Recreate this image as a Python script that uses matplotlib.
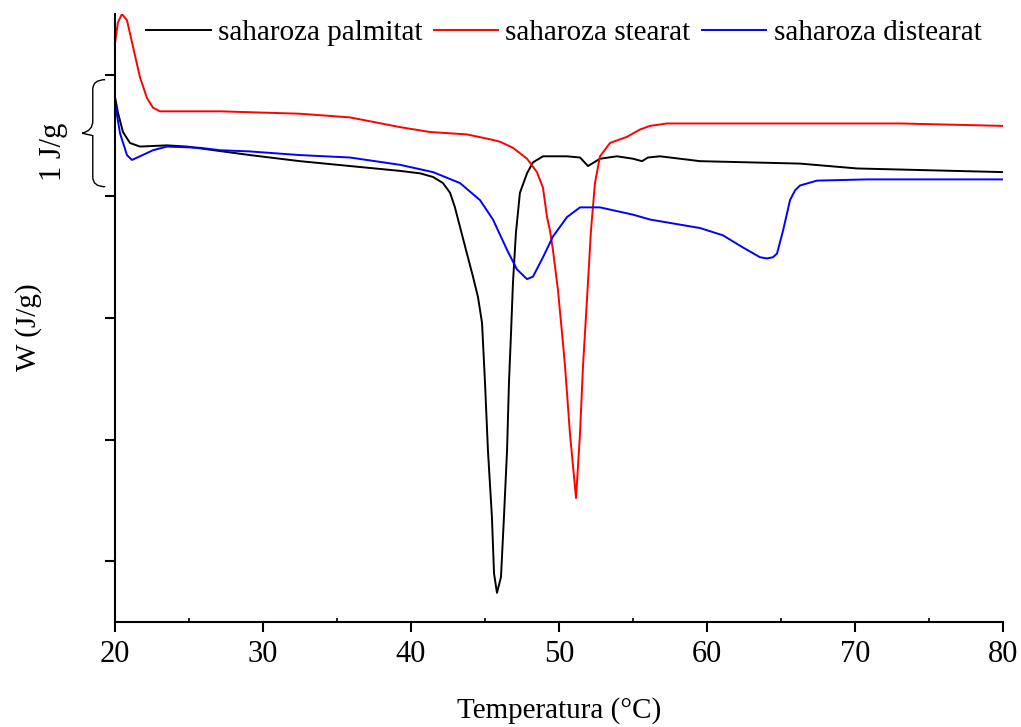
import matplotlib.pyplot as plt
import numpy as np
from matplotlib.transforms import blended_transform_factory
from matplotlib.path import Path
from matplotlib.patches import PathPatch

# saharoza palmitat
t_palm = [20.00, 20.20, 20.54, 21.01, 21.69, 23.51, 24.86, 29.12, 32.50, 35.88,
          39.26, 40.61, 41.49, 42.16, 42.64, 42.97, 43.31, 43.78, 44.19, 44.53,
          44.80, 45.00, 45.20, 45.47, 45.61, 45.81, 46.08, 46.28, 46.49, 46.62,
          46.76, 46.89, 47.09, 47.36, 47.84, 48.24, 48.92, 50.54, 51.42, 51.96,
          52.77, 53.92, 55.00, 55.61, 56.01, 56.82, 58.18, 59.53, 66.28, 70.14,
          80.00]
w_palm = [-0.18, -0.31, -0.47, -0.56, -0.59, -0.58, -0.59, -0.66, -0.71, -0.75,
          -0.79, -0.81, -0.84, -0.89, -0.97, -1.09, -1.25, -1.47, -1.66, -1.83,
          -2.04, -2.53, -3.09, -3.64, -4.10, -4.26, -4.13, -3.64, -3.09, -2.53,
          -2.12, -1.71, -1.30, -0.97, -0.81, -0.72, -0.67, -0.67, -0.68, -0.75,
          -0.69, -0.67, -0.69, -0.71, -0.68, -0.67, -0.69, -0.71, -0.73, -0.77,
          -0.80]

# saharoza stearat
t_stear = [20.00, 20.20, 20.47, 20.81, 21.22, 21.69, 22.16, 22.57, 23.04, 24.39,
           27.09, 32.50, 35.88, 39.26, 41.28, 43.78, 45.34, 46.01, 46.89, 47.84,
           48.51, 48.92, 49.19, 49.39, 49.59, 49.93, 50.27, 50.41, 50.74, 51.15,
           51.42, 51.62, 51.89, 52.16, 52.43, 52.77, 53.45, 54.59, 55.47, 56.15,
           57.30, 59.53, 66.28, 73.04, 80.00]
w_stear = [0.26, 0.43, 0.50, 0.45, 0.23, -0.02, -0.19, -0.27, -0.30, -0.30,
           -0.30, -0.32, -0.35, -0.43, -0.47, -0.49, -0.53, -0.55, -0.60, -0.69,
           -0.80, -0.93, -1.17, -1.28, -1.44, -1.77, -2.21, -2.40, -2.95, -3.48,
           -2.95, -2.40, -1.85, -1.28, -0.89, -0.67, -0.56, -0.51, -0.45, -0.42,
           -0.40, -0.40, -0.40, -0.40, -0.42]

# saharoza distearat
t_dist = [20.00, 20.34, 20.81, 21.15, 21.69, 22.57, 23.51, 25.74, 27.09, 29.12,
          32.50, 35.88, 39.26, 41.49, 43.31, 44.66, 45.54, 46.49, 47.16, 47.84,
          48.24, 48.92, 49.59, 50.54, 51.42, 52.09, 52.77, 55.00, 56.15, 59.53,
          61.08, 62.43, 63.58, 64.05, 64.46, 64.73, 65.14, 65.61, 65.95, 66.28,
          67.43, 70.81, 75.27, 80.00]
w_dist = [-0.23, -0.48, -0.66, -0.70, -0.67, -0.62, -0.59, -0.60, -0.62, -0.63,
          -0.66, -0.68, -0.74, -0.80, -0.89, -1.03, -1.19, -1.44, -1.60, -1.68,
          -1.66, -1.50, -1.33, -1.17, -1.09, -1.09, -1.09, -1.15, -1.19, -1.26,
          -1.32, -1.42, -1.50, -1.51, -1.50, -1.47, -1.28, -1.03, -0.95, -0.91,
          -0.87, -0.86, -0.86, -0.86]

labels = ['saharoza palmitat', 'saharoza stearat', 'saharoza distearat']
colors = ['black', 'red', 'blue']

plt.rcParams['font.family'] = ['Liberation Serif', 'DejaVu Serif']
plt.rcParams['font.size'] = 21

fig = plt.figure(figsize=(10.21, 7.27), dpi=100)
ax = fig.add_axes([0.1126, 0.1444, 0.8698, 0.8363])

for t, w, lab, c in zip([t_palm, t_stear, t_dist], [w_palm, w_stear, w_dist], labels, colors):
    ax.plot(t, w, color=c, lw=1.4, label=lab)

ax.set_xlim(20, 80)
ax.set_ylim(-4.5, 0.5)
ax.set_xticks(np.arange(20, 81, 10))
ax.set_xticks(np.arange(25, 80, 10), minor=True)
ax.set_yticks([0, -1, -2, -3, -4])
ax.set_yticklabels([])
ax.tick_params(axis='both', which='major', direction='out', length=7, width=1.5,
               labelsize=22, pad=6)
ax.tick_params(axis='x', which='minor', direction='in', length=3, width=1.2)
for s in ['top', 'right']:
    ax.spines[s].set_visible(False)
for s in ['left', 'bottom']:
    ax.spines[s].set_linewidth(1.5)

ax.set_xlabel('Temperatura (°C)', fontsize=21, va='top')
ax.xaxis.set_label_coords(0.5, -0.123)
ax.set_ylabel('W (J/g)', fontsize=21)
ax.yaxis.set_label_coords(-0.082, 0.485)

ax.legend(loc='center', bbox_to_anchor=(0.5055, 0.969), ncol=3, frameon=False,
          handlelength=2.2, handletextpad=0.25, columnspacing=0.4, fontsize=21,
          borderaxespad=0, borderpad=0)

# brace for scale 1 J/g
tr = blended_transform_factory(ax.transAxes, ax.transData)
xr, xm, xl = -0.011, -0.025, -0.037
verts = [(xr, -0.04), (xm, -0.04), (xm, -0.12), (xm, -0.12),
         (xm, -0.38), (xm, -0.38), (xm, -0.46), (xl, -0.48),
         (xm, -0.50), (xm, -0.50), (xm, -0.58), (xm, -0.84),
         (xm, -0.84), (xm, -0.92), (xr, -0.92)]
codes = [Path.MOVETO, Path.CURVE3, Path.CURVE3, Path.LINETO,
         Path.LINETO, Path.LINETO, Path.CURVE3, Path.CURVE3,
         Path.CURVE3, Path.LINETO, Path.CURVE3, Path.LINETO,
         Path.LINETO, Path.CURVE3, Path.CURVE3]
brace = PathPatch(Path(verts, codes), fill=False, lw=1.0, color='black',
                  transform=tr, clip_on=False)
ax.add_patch(brace)
ax.text(-0.069, -0.63, '1 J/g', rotation=90, ha='center', va='center',
        transform=tr, fontsize=22)

fig.savefig('out.png', dpi=100)
